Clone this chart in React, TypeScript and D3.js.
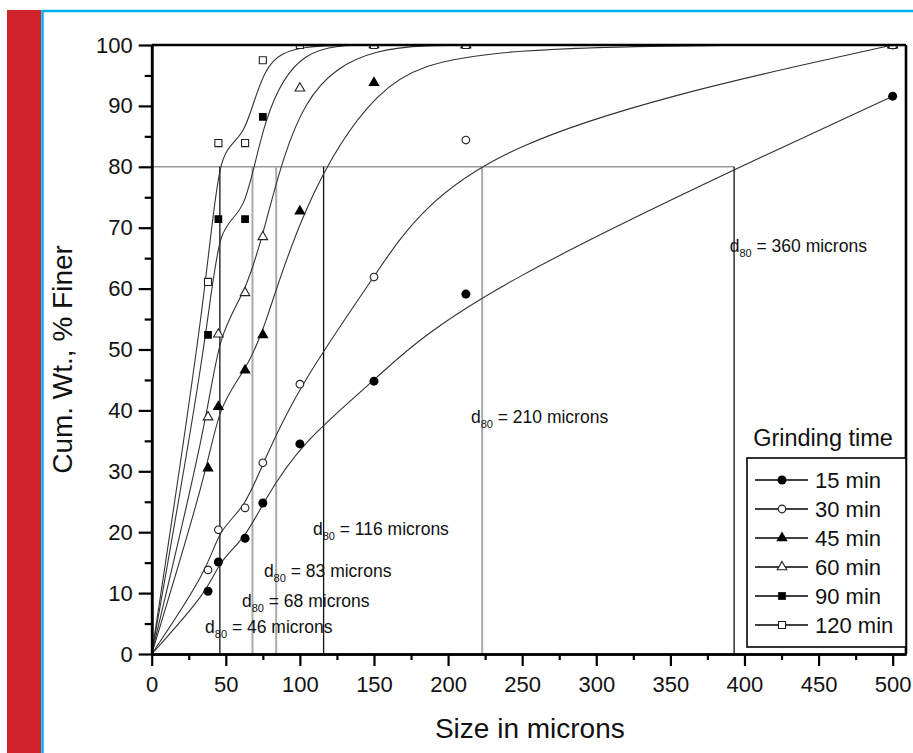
import React, { useEffect, useRef } from "react";
import * as d3 from "d3";

// sieve sizes (microns)
const sizes = [38, 45, 63, 75, 100, 150, 212, 500];

// cumulative % finer for each grinding time
const t15 = [10.3, 15.1, 19.0, 24.8, 34.5, 44.8, 59.1, 91.6];
const t30 = [13.8, 20.4, 24.0, 31.4, 44.3, 61.9, 84.4, 100];
const t45 = [30.5, 40.6, 46.6, 52.4, 72.7, 93.8, 100, 100];
const t60 = [38.9, 52.5, 59.3, 68.5, 92.9, 100, 100, 100];
const t90 = [52.4, 71.4, 71.4, 88.2, 100, 100, 100, 100];
const t120 = [61.1, 83.9, 83.9, 97.5, 100, 100, 100, 100];

const seriesNames = ["15 min", "30 min", "45 min", "60 min", "90 min", "120 min"];
const seriesValues = [t15, t30, t45, t60, t90, t120];

// d80 read-off lines (where each curve crosses 80 %)
const d80Level = 80;
const d80Sizes = [46, 68, 84, 116, 223, 393];
const d80Dark = [true, false, false, true, false, true];

// d80 annotations: text value and anchor in data units
const d80Labels = ["46", "68", "83", "116", "210", "360"];
const d80LabelX = [36, 60.9, 75.7, 108.8, 215.4, 390];
const d80LabelY = [3.4, 7.7, 12.6, 19.5, 37.9, 66];

const yTicks = [0, 10, 20, 30, 40, 50, 60, 70, 80, 90, 100];
const xTicks = [0, 50, 100, 150, 200, 250, 300, 350, 400, 450, 500];

const drawChart = (el: SVGSVGElement) => {
  const W = 913;
  const H = 753;
  const left = 151.7;
  const right = 906;
  const top = 45;
  const bottom = 654;
  const font = "Arial, 'Liberation Sans', sans-serif";

  const svg = d3.select(el);
  svg.selectAll("*").remove();
  svg.attr("width", W).attr("height", H);

  svg.append("rect").attr("width", W).attr("height", H).attr("fill", "#fff");

  // page decoration: red band + cyan frame
  svg.append("rect").attr("x", 7).attr("y", 10).attr("width", 34).attr("height", H - 10).attr("fill", "#D2232A");
  svg.append("line").attr("x1", 42.5).attr("x2", W).attr("y1", 11).attr("y2", 11).attr("stroke", "#00AEEF").attr("stroke-width", 2.5);
  svg.append("line").attr("x1", 42.5).attr("x2", 42.5).attr("y1", 10).attr("y2", H).attr("stroke", "#00AEEF").attr("stroke-width", 2.5);

  const x = d3.scaleLinear().domain([0, 509]).range([left, right]);
  const y = d3.scaleLinear().domain([0, 100]).range([bottom, top]);

  svg.append("clipPath").attr("id", "plotclip")
    .append("rect").attr("x", left).attr("y", top).attr("width", right - left).attr("height", bottom - top);

  // d80 guide lines
  svg.append("line")
    .attr("x1", x(0)).attr("x2", x(d80Sizes[d80Sizes.length - 1]))
    .attr("y1", y(d80Level)).attr("y2", y(d80Level))
    .attr("stroke", "#999").attr("stroke-width", 1.6);

  svg.selectAll(".d80")
    .data(d80Sizes)
    .enter()
    .append("line")
    .attr("x1", (d) => x(d)).attr("x2", (d) => x(d))
    .attr("y1", y(0)).attr("y2", y(d80Level))
    .attr("stroke", (d, i) => (d80Dark[i] ? "#111" : "#aaa"))
    .attr("stroke-width", (d, i) => (d80Dark[i] ? 1.3 : 2));

  // curves
  const line = d3.line<[number, number]>()
    .x((d) => x(d[0]))
    .y((d) => y(d[1]))
    .curve(d3.curveBasis);

  const g = svg.append("g").attr("clip-path", "url(#plotclip)");
  seriesValues.forEach((vals) => {
    const pts: [number, number][] = [[0, 0]].concat(sizes.map((s, i) => [s, vals[i]])) as [number, number][];
    g.append("path").attr("d", line(pts)).attr("fill", "none").attr("stroke", "#333").attr("stroke-width", 1.1);
  });

  // markers
  const shapes = [d3.symbolCircle, d3.symbolCircle, d3.symbolTriangle, d3.symbolTriangle, d3.symbolSquare, d3.symbolSquare];
  const filled = [true, false, true, false, true, false];
  const sizesArea = [64, 46, 56, 40, 60, 50];
  const sym = (i: number) => d3.symbol().type(shapes[i]).size(sizesArea[i])();

  seriesValues.forEach((vals, i) => {
    g.selectAll(".m" + i)
      .data(vals)
      .enter()
      .append("path")
      .attr("d", sym(i))
      .attr("transform", (d, j) => "translate(" + x(sizes[j]) + "," + y(d) + ")")
      .attr("fill", filled[i] ? "#000" : "#fff")
      .attr("stroke", filled[i] ? "none" : "#222")
      .attr("stroke-width", 1.1);
  });

  // annotations
  d80Labels.forEach((lab, i) => {
    const t = svg.append("text")
      .attr("x", x(d80LabelX[i]))
      .attr("y", y(d80LabelY[i]))
      .attr("font-family", font)
      .attr("font-size", 17.5)
      .attr("fill", "#111");
    t.append("tspan").text("d");
    t.append("tspan").attr("font-size", 11).attr("dy", 5).text("80");
    t.append("tspan").attr("dy", -5).text(" = " + lab + " microns");
  });

  // frame top / right
  svg.append("line").attr("x1", left).attr("x2", right).attr("y1", top).attr("y2", top).attr("stroke", "#000").attr("stroke-width", 2.6);
  svg.append("line").attr("x1", right).attr("x2", right).attr("y1", top).attr("y2", bottom).attr("stroke", "#000").attr("stroke-width", 2.6);

  // axes
  const xAxis = svg.append("g").attr("transform", "translate(0," + bottom + ")")
    .call(d3.axisBottom(x).tickValues(xTicks).tickSize(12).tickPadding(10).tickSizeOuter(0));
  svg.append("g").attr("transform", "translate(0," + bottom + ")")
    .call(d3.axisBottom(x).tickValues(d3.range(25, 501, 50)).tickSize(6).tickFormat(() => "").tickSizeOuter(0));

  const yAxis = svg.append("g").attr("transform", "translate(" + left + ",0)")
    .call(d3.axisLeft(y).tickValues(yTicks).tickSize(13).tickPadding(6).tickSizeOuter(0));
  svg.append("g").attr("transform", "translate(" + left + ",0)")
    .call(d3.axisLeft(y).tickValues(d3.range(5, 100, 10)).tickSize(7).tickFormat(() => "").tickSizeOuter(0));

  svg.selectAll(".domain").attr("stroke", "#000").attr("stroke-width", 2.6);
  svg.selectAll(".tick line").attr("stroke", "#000").attr("stroke-width", 2.2);
  [xAxis, yAxis].forEach((a) =>
    a.selectAll("text").attr("font-family", font).attr("font-size", 22).attr("fill", "#111")
  );

  // axis titles
  svg.append("text")
    .attr("x", (left + right) / 2 + 1).attr("y", 738)
    .attr("text-anchor", "middle")
    .attr("font-family", font).attr("font-size", 28).attr("fill", "#111")
    .text("Size in microns");
  svg.append("text")
    .attr("transform", "translate(72," + (y(50) + 10) + ") rotate(-90)")
    .attr("text-anchor", "middle")
    .attr("font-family", font).attr("font-size", 28).attr("fill", "#111")
    .text("Cum. Wt., % Finer");

  // legend
  svg.append("text")
    .attr("x", 823).attr("y", 446)
    .attr("text-anchor", "middle")
    .attr("font-family", font).attr("font-size", 23.5).attr("fill", "#111")
    .text("Grinding time");
  svg.append("rect")
    .attr("x", 747).attr("y", 458).attr("width", 159).attr("height", 189)
    .attr("fill", "#fff").attr("stroke", "#000").attr("stroke-width", 1.6);

  seriesNames.forEach((name, i) => {
    const ly = 480 + i * 29;
    svg.append("line").attr("x1", 755).attr("x2", 808).attr("y1", ly).attr("y2", ly).attr("stroke", "#000").attr("stroke-width", 1.4);
    svg.append("path")
      .attr("d", sym(i))
      .attr("transform", "translate(782," + ly + ")")
      .attr("fill", filled[i] ? "#000" : "#fff")
      .attr("stroke", filled[i] ? "none" : "#222")
      .attr("stroke-width", 1.1);
    svg.append("text")
      .attr("x", 815).attr("y", ly + 8)
      .attr("font-family", font).attr("font-size", 22).attr("fill", "#111")
      .text(name);
  });
};

const App = () => {
  const ref = useRef<SVGSVGElement>(null);
  useEffect(() => {
    if (ref.current) drawChart(ref.current);
  });
  return (
    <div id="content">
      <svg ref={ref} style={{ position: "absolute", left: 0, top: 0 }}></svg>
    </div>
  );
};

export default App;
